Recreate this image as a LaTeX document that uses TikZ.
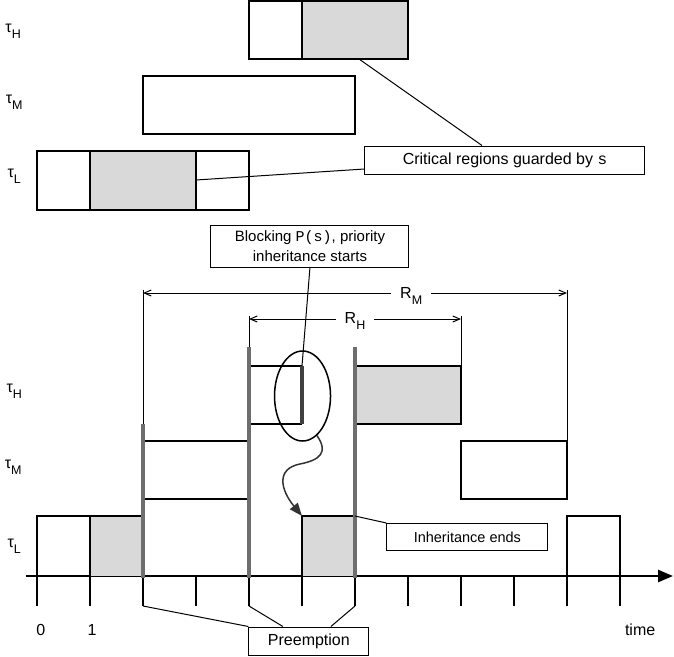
\documentclass[tikz,border=0pt]{standalone}
\usepackage{fontspec}
\setmainfont{Liberation Sans}
\setmonofont{Liberation Mono}
\usetikzlibrary{shapes.geometric,arrows.meta,positioning}
\newcommand{\lowidx}[2]{#1\raisebox{-0.4em}{\fontsize{12.5}{12.5}\selectfont #2}}
\newcommand{\task}[1]{\lowidx{τ}{#1}}

\begin{document}
\begin{tikzpicture}[x=53pt, y=-1pt, font=\fontsize{16}{19}\selectfont]
\tikzset{
  box/.style={draw=black, line width=2pt},
  shade/.style={fill=black!15},
  note/.style={rectangle, draw=black, line width=1pt, fill=white, inner sep=0pt, align=center},
  leader/.style={draw=black, line width=1pt},
  grayln/.style={draw=black!57, line width=3.5pt},
  dim/.style={leader, {Straight Barb[length=7pt,width=6pt]}-{Straight Barb[length=7pt,width=6pt]}},
}
\useasboundingbox ({-37/53},0) rectangle ({637/53},656);

\node (tH1) at (-0.45,31) {\task{H}};
\node (tM1) at (-0.43,102) {\task{M}};
\node (tL1) at (-0.43,176) {\task{L}};
\fill[shade] (5,1) rectangle (7,59);
\draw[box] (4,1) rectangle (7,59);
\draw[box] (5,1) -- (5,59);
\draw[box] (2,76) rectangle (6,134);
\fill[shade] (1,151) rectangle (3,210);
\draw[box] (0,151) rectangle (4,210);
\draw[box] (1,151) -- (1,210) (3,151) -- (3,210);
\node[note, minimum width=280pt, minimum height=28pt] (crit) at (8.83,160) {Critical regions guarded by \texttt{s}};
\coordinate (hcrit) at (6.075,59);
\coordinate (lcrit) at (3,180);
\draw[leader] (hcrit) -- ([xshift=-23pt]crit.north);
\draw[leader] (lcrit) -- ([yshift=-9pt]crit.west);

\node (tH2) at (-0.43,391) {\task{H}};
\node (tM2) at (-0.45,467) {\task{M}};
\node (tL2) at (-0.43,546) {\task{L}};
\draw[line width=2.5pt, -{Triangle[length=15pt,width=12pt]}] (-0.21,576) -- (12.0,576);
\foreach \t in {0,...,11}
  \draw[line width=1.5pt] (\t,576) -- (\t,606);
\node (n0) at (0.07,630) {0};
\node (n1) at (1.04,630) {1};
\node (tm) at (11.38,630) {time};

\fill[shade] (1,516) rectangle (2,576);
\draw[box] (0,576) |- (2,516);
\draw[box] (1,516) -- (1,576);
\fill[shade] (5,516) rectangle (6,576);
\draw[box] (5,576) |- (6,516);
\draw[box] (10,576) |- (11,516) -- (11,576);
\draw[box] (2,441) -- (4,441) (2,499) -- (4,499);
\draw[box] (8,441) rectangle (10,499);
\draw[box] (4,366) -- (5,366) (4,424) -- (5,424);
\fill[shade] (6,366) rectangle (8,424);
\draw[box] (6,366) -| (8,424) -- (6,424);
\draw[line width=4pt, black!75] (5,366) -- (5,424);
\coordinate (blk) at (5,366);
\coordinate (gl) at (5,516);

\draw[leader] (2,290) -- (2,425) (4,316) -- (4,350) (8,316) -- (8,366) (10,290) -- (10,441);
\draw[grayln] (2,424) -- (2,578);
\draw[grayln] (4,347) -- (4,578);
\draw[grayln] (6,347) -- (6,578);

\draw[dim] (2,293) -- (10,293);
\node[fill=white, inner xsep=9pt, inner ysep=1pt] (rm) at (7.06,296) {\lowidx{R}{M}};
\draw[dim] (4,319) -- (8,319);
\node[fill=white, inner xsep=9pt, inner ysep=1pt] (rh) at (6,321) {\lowidx{R}{H}};

\node[note, minimum width=198pt, minimum height=42pt, font=\fontsize{15}{20}\selectfont] (blkn) at (5.15,246) {Blocking \texttt{P(s)}, priority\\inheritance starts};
\draw[leader] (blkn.south) -- (blk);
\node[draw, ellipse, line width=1.5pt, minimum width=56pt, minimum height=90pt, inner sep=0pt] (circ) at (5.01,396) {};
\draw[line width=1.5pt, black!80, -{Triangle[length=13pt,width=10pt]}] (circ.-70) .. controls (5.5,452) and (5.35,460) .. (4.96,464) .. controls (4.5,469) and (4.6,490) .. (gl);

\node[note, minimum width=161pt, minimum height=27pt, font=\fontsize{14.5}{17}\selectfont] (inh) at (8.12,537) {Inheritance ends};
\draw[leader] (6,516) -- (inh.north west);
\node[note, minimum width=120pt, minimum height=28pt] (pre) at (5.13,641) {Preemption};
\draw[leader] (2,606) -- (pre.north west);
\draw[leader] (4,606) -- ([xshift=-26pt]pre.north);
\draw[leader] (6,606) -- ([xshift=22pt]pre.north);
\end{tikzpicture}
\end{document}
